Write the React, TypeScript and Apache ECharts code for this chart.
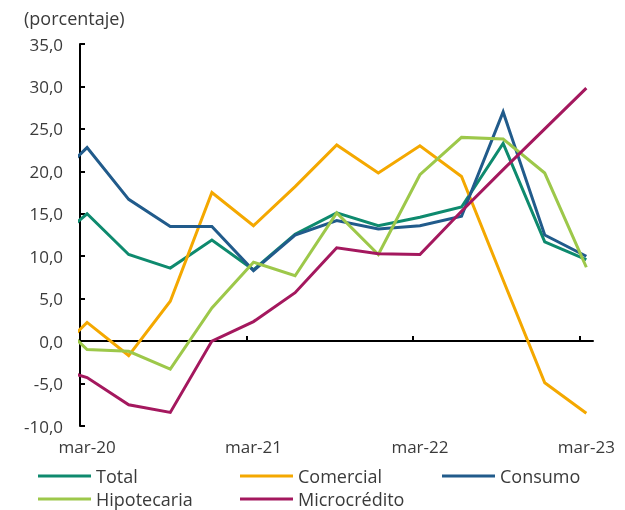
import React, { useEffect, useRef } from "react";
import * as echarts from "echarts";

// Quarterly periods (first one only partially visible at the left edge)
const periods = [
  "dic-19", "mar-20", "jun-20", "sep-20", "dic-20", "mar-21", "jun-21",
  "sep-21", "dic-21", "mar-22", "jun-22", "sep-22", "dic-22", "mar-23",
];
const tickLabels = ["mar-20", "mar-21", "mar-22", "mar-23"];

const total = [10.8, 15.0, 10.2, 8.6, 11.9, 8.4, 12.6, 15.1, 13.6, 14.6, 15.8, 23.3, 11.7, 9.6];
const comercial = [-2.6, 2.2, -1.7, 4.7, 17.5, 13.6, 18.2, 23.1, 19.8, 23.0, 19.4, 7.2, -4.9, -8.5];
const consumo = [18.0, 22.8, 16.7, 13.5, 13.5, 8.3, 12.5, 14.2, 13.2, 13.6, 14.7, 27.0, 12.5, 10.0];
const hipotecaria = [3.7, -1.0, -1.2, -3.3, 3.9, 9.3, 7.7, 15.1, 10.2, 19.6, 24.0, 23.8, 19.8, 8.7];
const microcredito = [-2.8, -4.3, -7.5, -8.4, 0.0, 2.3, 5.7, 11.0, 10.3, 10.2, 15.3, 20.2, 25.0, 29.8];

const seriesDefs = [
  { name: "Total", data: total, color: "#0E8A6E" },
  { name: "Comercial", data: comercial, color: "#F4A800" },
  { name: "Consumo", data: consumo, color: "#215B8B" },
  { name: "Hipotecaria", data: hipotecaria, color: "#9DC84A" },
  { name: "Microcrédito", data: microcredito, color: "#A4185E" },
];

const FONT = "'Open Sans', 'Noto Sans', sans-serif";
const TEXT = "#3a3a3a";
const FS = 17;
const FS_LEG = 18;

export default function App() {
  const ref = useRef<HTMLDivElement>(null);

  useEffect(() => {
    if (!ref.current) return;
    const chart = echarts.init(ref.current, undefined, { renderer: "svg" });
    const xMin = -0.17;
    const xMax = 12.16;
    const labelIdx = tickLabels.map((l) => periods.indexOf(l) - 1);

    const legendPos = [
      { left: 38, top: 466 },
      { left: 240, top: 466 },
      { left: 442, top: 466 },
      { left: 38, top: 489 },
      { left: 240, top: 489 },
    ];

    chart.setOption({
      animation: false,
      textStyle: { fontFamily: FONT },
      title: {
        text: "(porcentaje)",
        left: 19,
        top: 4,
        textStyle: { fontFamily: FONT, fontSize: FS_LEG, fontWeight: "normal", color: TEXT },
      },
      grid: { left: 80, right: 32, top: 44, bottom: 84, containLabel: false },
      legend: seriesDefs.map((s, i) => ({
        data: [s.name],
        left: legendPos[i].left,
        top: legendPos[i].top,
        icon: "rect",
        itemWidth: 53,
        itemHeight: 3,
        padding: 0,
        selectedMode: false,
        textStyle: { fontFamily: FONT, fontSize: FS_LEG, color: TEXT, lineHeight: 20 },
      })),
      xAxis: [
        {
          type: "value",
          position: "top",
          min: xMin,
          max: xMax,
          axisLine: { show: true, onZero: true, lineStyle: { color: "#000", width: 2 } },
          axisTick: {
            show: true,
            length: 5,
            customValues: [-0.17, 3.83, 7.83, 11.83],
            lineStyle: { color: "#000", width: 2 },
          },
          axisLabel: { show: false },
          splitLine: { show: false },
        },
        {
          type: "value",
          position: "bottom",
          min: xMin,
          max: xMax,
          axisLine: { show: false, onZero: false },
          axisTick: { show: false },
          axisLabel: {
            show: true,
            margin: 12,
            customValues: labelIdx,
            formatter: (v: number) => periods[Math.round(v) + 1] ?? "",
            fontFamily: FONT,
            fontSize: FS,
            color: TEXT,
          },
          splitLine: { show: false },
        },
      ],
      yAxis: {
        type: "value",
        min: -10,
        max: 35,
        interval: 5,
        axisLine: { show: true, onZero: false, lineStyle: { color: "#000", width: 2 } },
        axisTick: { show: true, inside: true, length: 5, lineStyle: { color: "#000", width: 2 } },
        axisLabel: {
          margin: 17,
          formatter: (v: number) => v.toFixed(1).replace(".", ","),
          fontFamily: FONT,
          fontSize: FS,
          color: TEXT,
        },
        splitLine: { show: false },
      },
      series: seriesDefs.map((s) => ({
        name: s.name,
        type: "line",
        xAxisIndex: 0,
        showSymbol: false,
        symbol: "none",
        clip: true,
        color: s.color,
        lineStyle: { color: s.color, width: 3, join: "miter" },
        data: s.data.map((v, i) => [i - 1, v]),
      })),
    });
    return () => chart.dispose();
  }, []);

  return (
    <div
      ref={ref}
      style={{ position: "fixed", left: 0, top: 0, width: 625, height: 510 }}
    />
  );
}
